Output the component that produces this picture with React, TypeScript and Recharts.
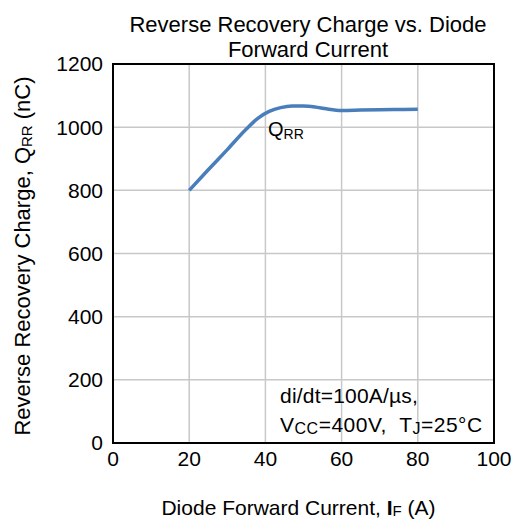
import React from 'react';
import { LineChart, Line, XAxis, YAxis, CartesianGrid, ReferenceArea, Label } from 'recharts';

const currentA = [20, 25, 30, 35, 38, 41, 44, 47, 50, 53, 56, 60, 65, 70, 75, 80];
const qrrNc = [800, 865, 929, 994, 1028, 1050, 1062, 1067, 1067, 1064, 1058, 1053, 1054, 1055, 1056, 1057];
const xTicks = [0, 20, 40, 60, 80, 100];
const yTicks = [0, 200, 400, 600, 800, 1000, 1200];

const data = currentA.map((i, idx) => ({ i, q: qrrNc[idx] }));

const FONT = '"Liberation Sans", Arial, sans-serif';

const XLabel = (props: any) => {
  const { viewBox } = props;
  const cx = viewBox.x + viewBox.width / 2 - 5;
  return (
    <text x={cx} y={515} textAnchor="middle" fontSize={21} fill="#000" fontFamily={FONT}>
      Diode Forward Current, <tspan fontWeight="bold">I</tspan>
      <tspan fontSize={15} dy={1}>F</tspan>
      <tspan dy={-1}> (A)</tspan>
    </text>
  );
};

const YLabel = () => {
  const cy = 256;
  return (
    <text
      x={0}
      y={0}
      transform={`translate(30, ${cy}) rotate(-90)`}
      textAnchor="middle"
      fontSize={22}
      fill="#000"
      fontFamily={FONT}
    >
      Reverse Recovery Charge, Q<tspan fontSize={15} dy={2}>RR</tspan>
      <tspan dy={-2}> (nC)</tspan>
    </text>
  );
};

export default function App() {
  return (
    <div style={{ position: 'relative', width: 516, height: 520, fontFamily: FONT, background: '#fff' }}>
      <style>{'body{margin:0}'}</style>
      <LineChart width={516} height={520} data={data} margin={{ top: 64, right: 22, bottom: 0, left: 0 }}>
        <CartesianGrid stroke="#c8c8c8" strokeWidth={1.5} />
        <XAxis
          dataKey="i"
          type="number"
          domain={[0, 100]}
          ticks={xTicks}
          height={77}
          axisLine={false}
          tickLine={false}
          tickSize={6}
          tickMargin={2}
          tick={{ fontSize: 21, fill: '#000', fontFamily: FONT }}
          interval={0}
        >
          <Label content={<XLabel />} />
        </XAxis>
        <YAxis
          type="number"
          domain={[0, 1200]}
          ticks={yTicks}
          width={113}
          axisLine={false}
          tickLine={false}
          tickSize={6}
          tickMargin={4}
          tick={{ fontSize: 21, fill: '#000', fontFamily: FONT }}
          interval={0}
        >
          <Label content={<YLabel />} />
        </YAxis>
        <Line
          type="monotone"
          dataKey="q"
          stroke="#4a7ebb"
          strokeWidth={3.5}
          dot={false}
          isAnimationActive={false}
        />
        <ReferenceArea x1={0} x2={100} y1={0} y2={1200} fill="none" stroke="#000" strokeWidth={2} />
      </LineChart>
      <div style={{ position: 'absolute', top: 12, left: 108, width: 400, textAlign: 'center', fontSize: 22, lineHeight: '25px', color: '#000' }}>
        Reverse Recovery Charge vs. Diode<br />Forward Current
      </div>
      <div style={{ position: 'absolute', top: 117, left: 268, fontSize: 20, color: '#000', lineHeight: '24px' }}>
        Q<span style={{ fontSize: 14, position: 'relative', top: 3 }}>RR</span>
      </div>
      <div style={{ position: 'absolute', top: 381, left: 280, fontSize: 21, color: '#000', lineHeight: '29px', whiteSpace: 'pre', letterSpacing: 0.2 }}>
        di/dt=100A/µs,<br />
        <span style={{ letterSpacing: 0.5 }}>
          V<span style={{ fontSize: 16, position: 'relative', top: 2 }}>CC</span>=400V,  T<span style={{ fontSize: 16, position: 'relative', top: 2 }}>J</span>=25°C
        </span>
      </div>
    </div>
  );
}
